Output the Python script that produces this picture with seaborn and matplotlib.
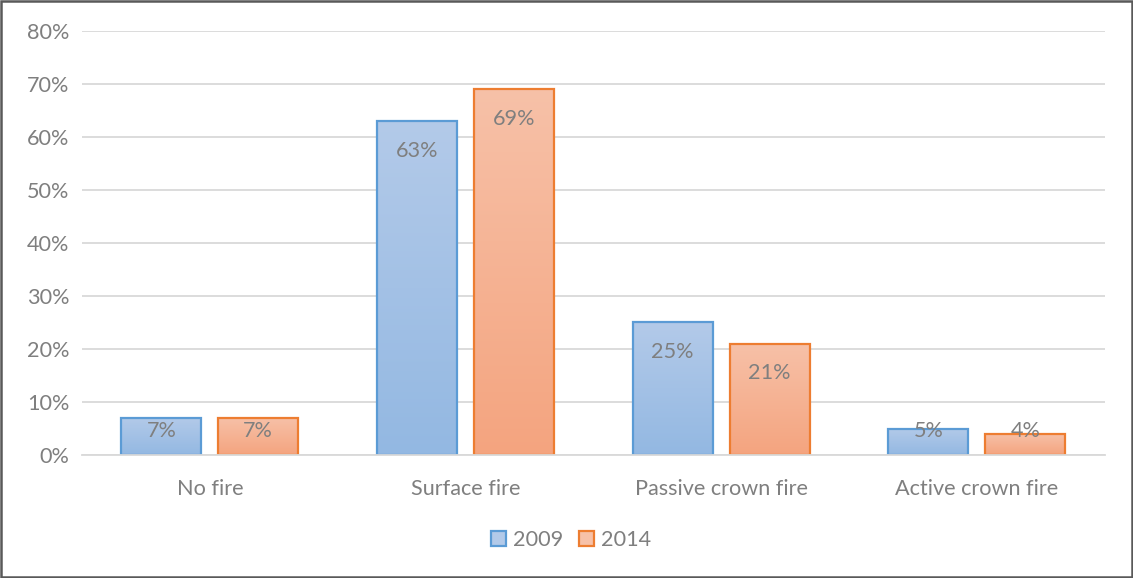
import numpy as np
import pandas as pd
import matplotlib
matplotlib.use("Agg")
import matplotlib.pyplot as plt
import matplotlib.patches as mpatches
from matplotlib.colors import LinearSegmentedColormap
import seaborn as sns

# Share of plots by simulated fire type
categories = ["No fire", "Surface fire", "Passive crown fire", "Active crown fire"]
years = ["2009", "2014"]
values_2009 = [0.07, 0.63, 0.25, 0.05]
values_2014 = [0.07, 0.69, 0.21, 0.04]
y_ticks = [0.0, 0.1, 0.2, 0.3, 0.4, 0.5, 0.6, 0.7, 0.8]

df = pd.DataFrame({
    "category": categories * 2,
    "year": [years[0]] * len(categories) + [years[1]] * len(categories),
    "share": values_2009 + values_2014,
})

edge_colors = {"2009": "#5B9BD5", "2014": "#ED7D31"}
grad_colors = {"2009": ("#B3CAE9", "#93B8E2"), "2014": ("#F7C1A8", "#F4A47F")}
text_grey = "#7F7F7F"
grid_grey = "#D9D9D9"
fs = 15.6

sns.set_theme(style="white")
plt.rcParams["font.family"] = ["Lato", "DejaVu Sans"]

fig = plt.figure(figsize=(11.33, 5.78), dpi=100)
ax = fig.add_axes([0.0724, 0.2128, 0.9026, 0.7336])

sns.barplot(data=df, x="category", y="share", hue="year", order=categories,
            hue_order=years, palette=edge_colors, width=0.758, gap=0.175,
            ax=ax, legend=False, errorbar=None, zorder=3)

ax.set_ylim(0, 0.8)
ax.set_xlim(-0.5, len(categories) - 0.5)
ax.set_yticks(y_ticks)
ax.set_yticklabels([f"{int(round(t * 100))}%" for t in y_ticks])
ax.yaxis.grid(True, color=grid_grey, linewidth=1.3, zorder=0)
ax.set_axisbelow(True)
for s in ["top", "right", "left"]:
    ax.spines[s].set_visible(False)
ax.spines["bottom"].set_color(grid_grey)
ax.spines["bottom"].set_linewidth(1.3)
ax.spines["bottom"].set_zorder(5)
ax.tick_params(axis="both", length=0, labelsize=fs, colors=text_grey)
ax.tick_params(axis="x", pad=17)
ax.tick_params(axis="y", pad=9)
ax.set_xlabel("")
ax.set_ylabel("")

# Gradient fill inside each bar, edge drawn on top
bars = [p for p in ax.patches if isinstance(p, mpatches.Rectangle) and p.get_height() > 0]
bars = sorted(bars, key=lambda p: p.get_x())
grad = np.linspace(0, 1, 256).reshape(-1, 1)
for p in bars:
    x0, w, h = p.get_x(), p.get_width(), p.get_height()
    ec = p.get_facecolor()
    year = "2009" if abs(ec[2] - 0.835) < 0.1 else "2014"
    top, bottom = grad_colors[year]
    cmap = LinearSegmentedColormap.from_list("g", [top, bottom])
    im = ax.imshow(grad, cmap=cmap, aspect="auto", extent=[x0, x0 + w, 0, h],
                   origin="upper", zorder=2.5)
    im.set_clip_path(p)
    p.set_facecolor("none")
    p.set_edgecolor(edge_colors[year])
    p.set_linewidth(1.6)
    # value label inside the bar end
    ax.text(x0 + w / 2, max(h - 0.0555, 0.0445), f"{int(round(h * 100))}%",
            ha="center", va="center", fontsize=fs, color=text_grey, zorder=6)

ax.set_xlim(-0.5, len(categories) - 0.5)
ax.set_ylim(0, 0.8)

handles = [mpatches.Patch(facecolor=grad_colors[y][0], edgecolor=edge_colors[y],
                          linewidth=1.6, label=y) for y in years]
fig.legend(handles=handles, loc="center", bbox_to_anchor=(0.504, 0.066), ncol=2,
           frameon=False, fontsize=fs, labelcolor=text_grey, handlelength=0.7,
           handleheight=0.7, handletextpad=0.3, columnspacing=0.75)

fig.patches.append(mpatches.Rectangle((0.001, 0.002), 0.998, 0.996, transform=fig.transFigure,
                                      fill=False, edgecolor="#595959", linewidth=1.8))

fig.savefig("out.png", dpi=100, facecolor="white")
